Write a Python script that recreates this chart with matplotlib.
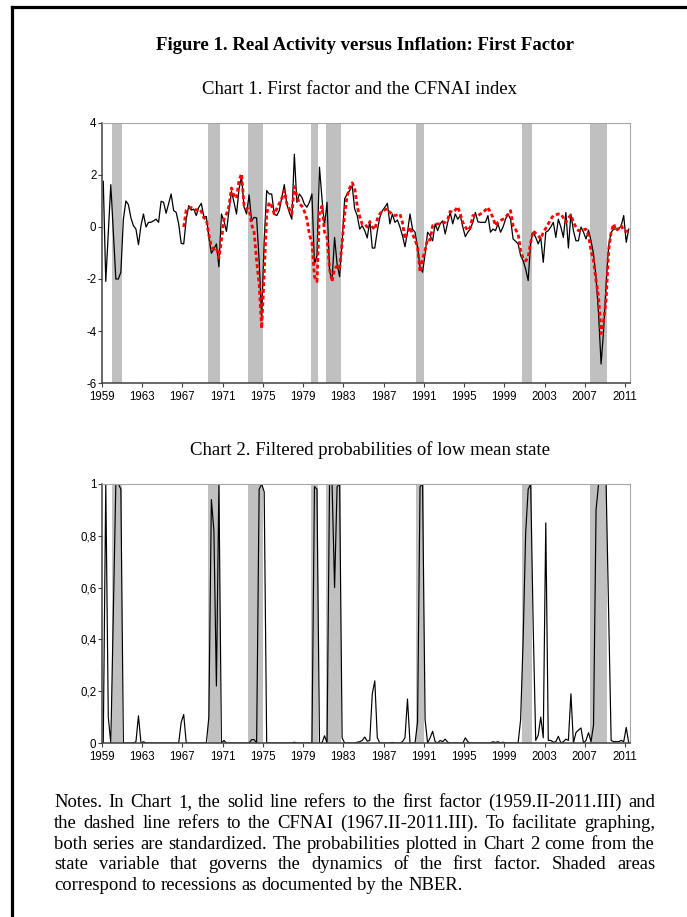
import matplotlib
matplotlib.use("Agg")
import matplotlib.pyplot as plt
from matplotlib.lines import Line2D

plt.rcParams['axes.unicode_minus'] = False
plt.rcParams['font.family'] = ['Liberation Sans', 'DejaVu Sans']

# ---------------------------------------------------------------
# data: quarterly, 1959.II (index 0) .. 2011.III (index 209)

years = list(range(1959, 2012, 4))

factor = [
    1.76, -2.09, -0.2, 1.63, -0.2, -2.0, -2.0, -1.74, 0.3, 1.0,
    0.86, 0.35, 0.05, -0.08, -0.68, 0.05, 0.5, 0.0, 0.18, 0.18,
    0.24, 0.3, 0.18, 0.99, 0.95, 0.53, 0.9, 1.27, 0.63, 0.56,
    0.12, -0.63, -0.65, 0.3, 0.82, 0.65, 0.69, 0.44, 0.76, 0.91,
    0.4, 0.4, -0.4, -1.01, -0.85, -0.65, -1.53, 0.5, 0.24, -0.17,
    0.63, 1.37, 0.95, 0.5, 1.46, 1.94, 0.76, 0.5, 1.24, 0.24,
    0.37, 0.35, -1.3, -3.47, -0.53, 1.4, 1.27, 1.27, 0.5, 0.44,
    0.63, 1.14, 1.63, 0.88, 0.56, 0.3, 2.8, 0.95, 1.27, 1.14,
    0.88, 0.76, 0.95, 1.27, -1.42, -1.1, 2.3, 1.08, 0.05, 0.95,
    -1.68, -2.06, -0.4, -1.42, -1.91, -0.59, 1.08, 1.27, 1.4, 1.59,
    0.69, 0.44, -0.08, 0.05, -0.14, -0.42, 0.24, -0.81, -0.81,
    -0.14, 0.37, 0.63, 0.76, 0.91, 0.12, 0.5, 0.18, 0.27, 0.0,
    -0.33, -0.76, -0.2, 0.5, -0.08, -0.2, -0.78, -1.55, -1.74, -1.04,
    -0.2, -0.33, -0.53, 0.12, -0.14, 0.12, 0.24, -0.27, 0.18, 0.56,
    0.12, 0.5, 0.3, 0.44, 0.0, -0.37, -0.2, -0.08, 0.18, 0.56,
    0.2, 0.18, 0.18, 0.18, 0.44, -0.2, -0.08, -0.14, 0.12, -0.2,
    0.0, 0.3, 0.5, 0.3, -0.46, -0.55, -0.65, -1.1, -1.3, -1.62,
    -2.06, -0.59, -0.2, -0.4, -0.65, -0.4, -1.36, -0.2, -0.14, 0.0,
    0.18, -0.4, 0.3, 0.0, -0.4, 0.56, -0.81, 0.5, -0.14, -0.53,
    -0.53, 0.0, -0.2, -0.46, -0.12, -0.53, -1.04, -1.94, -3.35, -5.27,
    -3.99, -2.19, -0.72, -0.2, -0.08, -0.08, -0.08, 0.05, 0.44, -0.59,
    -0.08,
]

# CFNAI starts 1967.II (index 32)
cfnai_start = 32
cfnai = [
    0.0, 0.65, 0.72, 0.75, 0.7, 0.65, 0.7, 0.6, 0.35, 0.3,
    -0.3, -0.75, -0.85, -0.8, -1.2, -0.5, 0.3, 0.5, 0.8, 1.5,
    1.2, 1.1, 1.8, 2.05, 0.8, 0.7, 0.7, 0.1, -0.2, -1.3,
    -2.2, -3.9, -1.8, 0.5, 0.95, 0.8, 0.5, 0.7, 0.9, 1.1,
    1.4, 0.9, 0.7, 0.5, 1.55, 1.2, 0.9, 0.8, 0.6, 0.3,
    -0.3, -0.6, -1.9, -2.1, 0.6, 0.8, -0.2, -0.4, -1.6, -2.1,
    -1.6, -1.5, -1.6, -0.6, 0.5, 1.2, 1.5, 1.7, 1.5, 0.8,
    0.4, 0.1, 0.1, 0.0, 0.2, 0.0, -0.1, 0.3, 0.5, 0.63,
    0.66, 0.7, 0.56, 0.5, 0.44, 0.47, 0.5, 0.18, -0.46, -0.2,
    0.0, -0.27, -0.5, -0.76, -1.74, -1.23, -0.9, -0.46, -0.5, 0.05,
    0.1, 0.12, 0.12, 0.15, 0.18, 0.3, 0.6, 0.56, 0.65, 0.78,
    0.5, 0.18, 0.0, -0.14, 0.0, 0.44, 0.44, 0.44, 0.5, 0.56,
    0.65, 0.76, 0.55, 0.37, 0.05, 0.18, 0.25, 0.3, 0.37, 0.5,
    0.63, 0.05, -0.1, -0.27, -0.9, -1.23, -1.3, -1.17, -0.59, -0.14,
    -0.25, -0.33, -0.46, -0.2, -0.05, 0.12, 0.3, 0.44, 0.47, 0.5,
    0.5, 0.35, 0.18, 0.35, 0.47, 0.18, 0.0, -0.14, -0.12, -0.1,
    -0.08, -0.33, -0.9, -1.3, -2.06, -2.7, -4.1, -3.6, -2.8, -0.9,
    -0.2, 0.12, -0.14, -0.05, 0.05, -0.14, -0.17, -0.15,
]

prob_low = [
    0.0, 1.0, 0.1, 0.0, 0.5, 1.0, 1.0, 0.98, 0.0, 0.0,
    0.0, 0.0, 0.0, 0.005, 0.105, 0.0, 0.005, 0.0, 0.0, 0.0,
    0.0, 0.0, 0.0, 0.0, 0.0, 0.0, 0.0, 0.0, 0.0, 0.0,
    0.0, 0.08, 0.11, 0.0, 0.0, 0.0, 0.0, 0.0, 0.0, 0.0,
    0.0, 0.0, 0.1, 0.94, 0.82, 0.22, 1.0, 0.0, 0.01, 0.0,
    0.0, 0.0, 0.0, 0.0, 0.0, 0.0, 0.0, 0.0, 0.0, 0.013,
    0.013, 0.0, 0.98, 1.0, 0.97, 0.0, 0.0, 0.0, 0.0, 0.0,
    0.0, 0.0, 0.0, 0.0, 0.0, 0.0, 0.003, 0.0, 0.0, 0.0,
    0.0, 0.0, 0.0, 0.0, 0.99, 0.98, 0.0, 0.0, 0.028, 0.0,
    1.0, 1.0, 0.6, 0.99, 1.0, 0.02, 0.0, 0.0, 0.0, 0.0,
    0.0, 0.003, 0.005, 0.01, 0.023, 0.007, 0.01, 0.19, 0.24, 0.02,
    0.0, 0.0, 0.0, 0.0, 0.0, 0.002, 0.0, 0.0, 0.0, 0.005,
    0.02, 0.17, 0.0, 0.0, 0.0, 0.08, 0.99, 1.0, 0.09, 0.0,
    0.02, 0.045, 0.005, 0.0, 0.01, 0.005, 0.015, 0.003, 0.0, 0.0,
    0.0, 0.0, 0.0, 0.0, 0.02, 0.005, 0.0, 0.0, 0.0, 0.0,
    0.0, 0.0, 0.0, 0.0, 0.0, 0.005, 0.002, 0.005, 0.0, 0.003,
    0.0, 0.0, 0.0, 0.0, 0.0, 0.0, 0.09, 0.4, 0.81, 0.98,
    1.0, 0.45, 0.01, 0.03, 0.1, 0.02, 0.85, 0.01, 0.01, 0.003,
    0.005, 0.026, 0.0, 0.005, 0.015, 0.01, 0.19, 0.0, 0.04, 0.05,
    0.058, 0.0, 0.01, 0.04, 0.005, 0.07, 0.9, 1.0, 1.0, 1.0,
    1.0, 0.5, 0.01, 0.005, 0.005, 0.005, 0.01, 0.005, 0.06, 0.0,
]

# NBER recessions, peak and trough quarters
recessions = [
    ("1960Q2", "1961Q1"), ("1969Q4", "1970Q4"), ("1973Q4", "1975Q1"),
    ("1980Q1", "1980Q3"), ("1981Q3", "1982Q4"), ("1990Q3", "1991Q1"),
    ("2001Q1", "2001Q4"), ("2007Q4", "2009Q2"),
]

notes = [
    "Notes. In Chart 1, the solid line refers to the first factor (1959.II-2011.III) and",
    "the dashed line refers to the CFNAI (1967.II-2011.III). To facilitate graphing,",
    "both series are standardized. The probabilities plotted in Chart 2 come from the",
    "state variable that governs the dynamics of the first factor. Shaded areas",
    "correspond to recessions as documented by the NBER.",
]

# ---------------------------------------------------------------


def q_index(q):
    return (int(q[:4]) - 1959) * 4 + int(q[-1]) - 2


W, H = 687, 917
fig = plt.figure(figsize=(W / 100, H / 100), dpi=100)


def px_box(l, t, r, b):
    return [l / W, 1 - b / H, (r - l) / W, (b - t) / H]


def style_axes(ax):
    for s in ['top', 'right']:
        ax.spines[s].set_color('#a6a6a6')
        ax.spines[s].set_linewidth(0.8)
    for s in ['left', 'bottom']:
        ax.spines[s].set_color('#404040')
        ax.spines[s].set_linewidth(1.1)
    ax.tick_params(direction='out', length=3, width=0.8, color='#404040',
                   labelsize=8.3, top=False, right=False)
    ax.tick_params(axis='y', pad=1)
    ax.tick_params(axis='x', pad=2.5)
    ax.set_xlim(0, len(factor))
    ax.set_xticks([(y - 1959) * 4 for y in years])
    ax.set_xticklabels([str(y) for y in years])
    for s, e in recessions:
        ax.axvspan(q_index(s), q_index(e) + 1, color='#c0c0c0', lw=0, zorder=0)


xs = [i + 0.5 for i in range(len(factor))]
xs_cf = [cfnai_start + i + 0.5 for i in range(len(cfnai))]

ax1 = fig.add_axes(px_box(102, 123, 630, 383))
style_axes(ax1)
ax1.plot(xs, factor, color='black', lw=0.9, zorder=2)
ax1.plot(xs_cf, cfnai, color='#ff0000', lw=2.0, linestyle=(0, (1.4, 1.0)),
         dash_capstyle='butt', zorder=3)
ax1.set_ylim(-6, 4)
ax1.set_yticks([-6, -4, -2, 0, 2, 4])
ax1.set_yticklabels(['-6', '-4', '-2', '0', '2', '4'])

ax2 = fig.add_axes(px_box(102, 484, 630, 743))
style_axes(ax2)
ax2.plot(xs, prob_low, color='black', lw=0.85, zorder=2)
ax2.set_ylim(0, 1)
ax2.set_yticks([0, 0.2, 0.4, 0.6, 0.8, 1])
ax2.set_yticklabels(['0', '0,2', '0,4', '0,6', '0,8', '1'])

serif = 'Liberation Serif'
fig.text(365 / W, 1 - 45 / H, "Figure 1. Real Activity versus Inflation: First Factor",
         ha='center', va='center', family=serif, weight='bold', size=13.5)
fig.text(360 / W, 1 - 89 / H, "Chart 1. First factor and the CFNAI index",
         ha='center', va='center', family=serif, size=13.5)
fig.text(370 / W, 1 - 450 / H, "Chart 2. Filtered probabilities of low mean state",
         ha='center', va='center', family=serif, size=13.5)

# justified notes block
renderer = fig.canvas.get_renderer()
x0, x1 = 54, 655
note_size = 13.4
for k, line in enumerate(notes):
    y = 1 - (807 + 20.8 * k) / H
    words = line.split()
    arts = [fig.text(0, y, w, family=serif, size=note_size, va='baseline') for w in words]
    widths = [a.get_window_extent(renderer).width for a in arts]
    if k < len(notes) - 1:
        gap = max((x1 - x0 - sum(widths)) / (len(words) - 1), 2.0)
    else:
        gap = note_size * 100 / 72 * 0.25
    x = x0
    for a, w in zip(arts, widths):
        a.set_x(x / W)
        x += w + gap

# frame around the figure (only top and left edges are inside the picture)
fig.add_artist(Line2D([11.7 / W, 1.0], [1 - 6.7 / H] * 2, color='black', lw=2.3,
                      transform=fig.transFigure, solid_capstyle='projecting'))
fig.add_artist(Line2D([11.7 / W] * 2, [0, 1 - 6.7 / H], color='black', lw=2.3,
                      transform=fig.transFigure, solid_capstyle='projecting'))

fig.savefig('out.png', dpi=100)
